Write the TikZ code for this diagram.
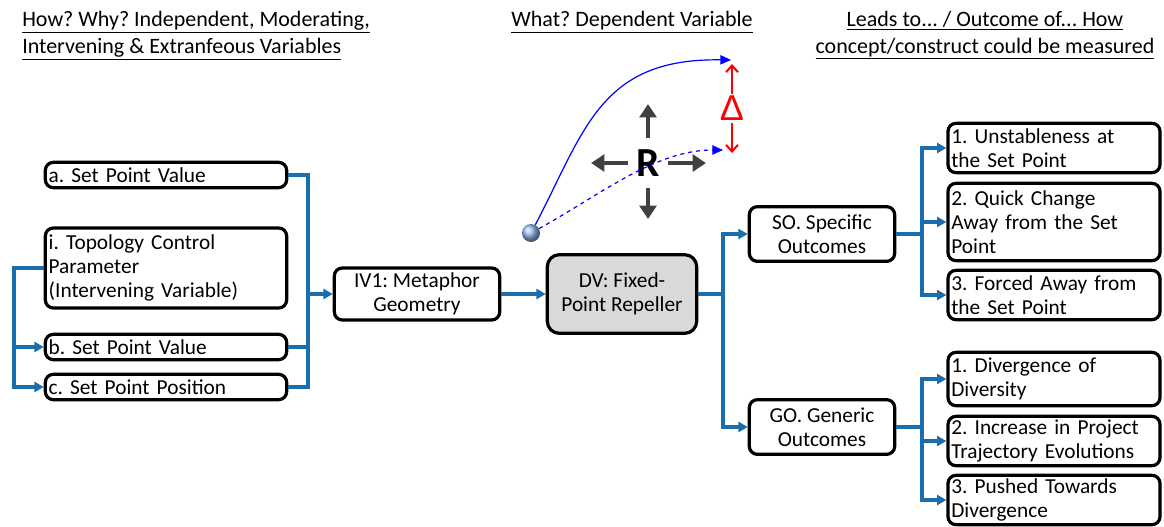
\documentclass[tikz,border=0pt]{standalone}
\usepackage{fontspec}
\setmainfont{Carlito}
\newfontfamily\deltafont{Liberation Sans}
\usetikzlibrary{arrows.meta,shadings}

\definecolor{wireblue}{RGB}{26,110,173}
\definecolor{boxgray}{RGB}{217,217,217}
\definecolor{arrgray}{RGB}{64,64,64}
\definecolor{ballblue}{RGB}{150,185,240}

\begin{document}
\frenchspacing
\begin{tikzpicture}[x=0.75pt,y=-0.75pt]
        \tikzstyle{box}=[draw, line width=2.4pt, rounded corners=6pt, inner xsep=2.5pt, inner ysep=1pt,
                         font=\fontsize{16}{18}\selectfont]
        \tikzstyle{lbox}=[box, align=left, text width=176pt, minimum height=19pt]
        \tikzstyle{rbox}=[box, align=left, text width=154pt, minimum height=37pt]
        \tikzstyle{mbox}=[box, align=center]
        \tikzstyle{head}=[font=\fontsize{16.5}{20}\selectfont, inner sep=0pt]
        \tikzstyle{wire}=[wireblue, line width=2.4pt]
        \tikzstyle{feed}=[wire, -{Triangle[length=7pt,width=7.5pt]}]
        \tikzstyle{push}=[arrgray, line width=3.4pt, -{Triangle[length=10pt,width=12.5pt]}]
        \tikzstyle{gap}=[red, line width=1.5pt, -{Straight Barb[length=5pt,width=9pt]}]

        \useasboundingbox (0,0) rectangle (1164,526);

        % headings
        \node[head, anchor=north west, align=left] (hl) at (22,11)
             {\underline{How? Why? Independent, Moderating,}\\\underline{Intervening \& Extranfeous Variables}};
        \node[head, anchor=north] (hm) at (632,11) {\underline{What? Dependent Variable}};
        \node[head, anchor=north, align=center] (hr) at (985,11)
             {\underline{Leads to... / Outcome of... How}\\\underline{concept/construct could be measured}};

        % left column
        \node[lbox] (a) at (166,175) {a. Set Point Value};
        \node[lbox, minimum height=60pt] (i) at (166,268) {i. Topology Control\\Parameter\\(Intervening Variable)};
        \node[lbox] (b) at (166,347) {b. Set Point Value};
        \node[lbox] (c) at (166,387) {c. Set Point Position};

        \node[mbox, minimum width=124pt, minimum height=39pt] (iv) at (417,294) {IV1: Metaphor\\Geometry};
        \node[mbox, fill=boxgray, rounded corners=9pt, minimum width=112pt, minimum height=59pt] (dv) at (622,294) {DV: Fixed-\\Point Repeller};

        \node[mbox, minimum width=109pt, minimum height=41pt] (so) at (822,234) {SO. Specific\\Outcomes};
        \node[mbox, minimum width=109pt, minimum height=41pt] (go) at (822,427) {GO. Generic\\Outcomes};

        % right column
        \node[rbox] (so1) at (1054,148) {1. Unstableness at\\the Set Point};
        \node[rbox, minimum height=58pt] (so2) at (1054,222) {2. Quick Change\\Away from the Set\\Point};
        \node[rbox] (so3) at (1054,295) {3. Forced Away from\\the Set Point};
        \node[rbox, minimum height=40pt] (go1) at (1054,379) {1. Divergence of\\Diversity};
        \node[rbox] (go2) at (1054,441) {2. Increase in Project\\Trajectory Evolutions};
        \node[rbox] (go3) at (1054,500) {3. Pushed Towards\\Divergence};

        % connectors
        \coordinate (busi) at (14,268);
        \draw[feed] (i.west) -- (busi) |- (c.west);
        \draw[feed] (busi) |- (b.west);

        \coordinate (busiv) at (308,294);
        \draw[wire] (a.east) -| (busiv);
        \draw[wire] (c.east) -| (busiv);
        \draw[wire] (b.east) -- (b.east -| busiv);
        \draw[feed] (busiv) -- (iv.west);

        \draw[feed] (iv.east) -- (dv.west);

        \coordinate (busdv) at (723,294);
        \draw[feed] (dv.east) -- (busdv) |- (so.west);
        \draw[feed] (busdv) |- (go.west);

        \coordinate (busso) at (922,234);
        \draw[feed] (so.east) -- (busso) |- (so1.west);
        \draw[feed] (busso) |- (so3.west);
        \draw[feed] (busso) -- (busso |- so2.west) -- (so2.west);

        \coordinate (busgo) at (922,427);
        \draw[feed] (go.east) -- (busgo) |- (go1.west);
        \draw[feed] (busgo) |- (go3.west);
        \draw[feed] (busgo) -- (busgo |- go2.west) -- (go2.west);

        % repeller sketch
        \node[font=\fontsize{31}{31}\selectfont\bfseries, inner sep=0pt] (r) at (648,163) {R};
        \draw[push] (648,138) -- (648,104);
        \draw[push] (648,188) -- (648,219);
        \draw[push] (628,163) -- (591,163);
        \draw[push] (668,163) -- (706,163);

        \node[circle, minimum size=13.5pt, inner sep=0pt, shading=ball, ball color=ballblue] (ball) at (531,233) {};
        \coordinate (tipa) at (731,60);
        \coordinate (tipb) at (723,150);
        \draw[blue, line width=0.9pt, -{Triangle[length=8pt,width=7pt]}] (ball) .. controls (585,130) and (600,58) .. (tipa);
        \draw[blue, line width=0.9pt, dashed, -{Triangle[length=8pt,width=7pt]}] (ball) .. controls (600,195) and (655,150) .. (tipb);

        \node[red, font=\deltafont\fontsize{27}{27}\selectfont, inner sep=0pt] (delta) at (732,108) {Δ};
        \draw[gap] (732,94) -- (732,64);
        \draw[gap] (732,123) -- (732,153);
    \end{tikzpicture}
\end{document}
